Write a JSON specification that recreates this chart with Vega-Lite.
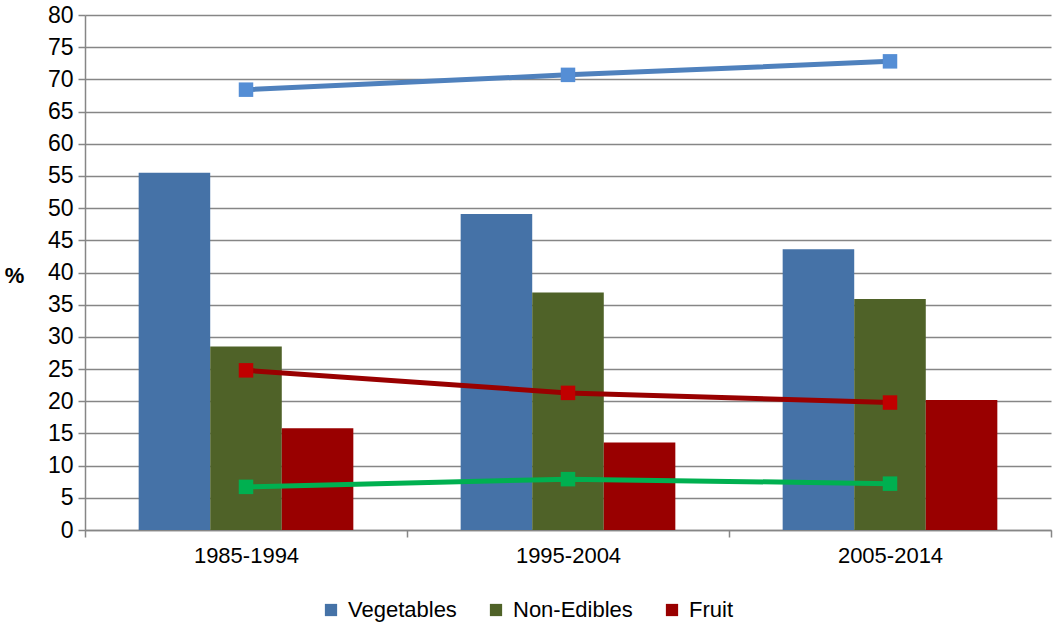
{
  "$schema": "https://vega.github.io/schema/vega-lite/v6.json",
  "width": 966,
  "height": 515,
  "autosize": {"type": "none"},
  "padding": {"left": 85, "top": 15, "right": 3, "bottom": 93},
  "background": "white",
  "config": {
    "font": "Liberation Sans",
    "view": {"stroke": null}
  },
  "data": {
    "values": [
      {"period": "1985-1994", "series": "Vegetables", "kind": "bar", "value": 55.5},
      {"period": "1985-1994", "series": "Non-Edibles", "kind": "bar", "value": 28.5},
      {"period": "1985-1994", "series": "Fruit", "kind": "bar", "value": 15.8},
      {"period": "1995-2004", "series": "Vegetables", "kind": "bar", "value": 49.1},
      {"period": "1995-2004", "series": "Non-Edibles", "kind": "bar", "value": 36.9},
      {"period": "1995-2004", "series": "Fruit", "kind": "bar", "value": 13.6},
      {"period": "2005-2014", "series": "Vegetables", "kind": "bar", "value": 43.6},
      {"period": "2005-2014", "series": "Non-Edibles", "kind": "bar", "value": 35.9},
      {"period": "2005-2014", "series": "Fruit", "kind": "bar", "value": 20.2},
      {"period": "1985-1994", "series": "Blue line", "kind": "line", "value": 68.4},
      {"period": "1995-2004", "series": "Blue line", "kind": "line", "value": 70.7},
      {"period": "2005-2014", "series": "Blue line", "kind": "line", "value": 72.8},
      {"period": "1985-1994", "series": "Red line", "kind": "line", "value": 24.8},
      {"period": "1995-2004", "series": "Red line", "kind": "line", "value": 21.3},
      {"period": "2005-2014", "series": "Red line", "kind": "line", "value": 19.8},
      {"period": "1985-1994", "series": "Green line", "kind": "line", "value": 6.7},
      {"period": "1995-2004", "series": "Green line", "kind": "line", "value": 7.9},
      {"period": "2005-2014", "series": "Green line", "kind": "line", "value": 7.2}
    ]
  },
  "encoding": {
    "x": {
      "field": "period",
      "type": "nominal",
      "scale": {"paddingInner": 0, "paddingOuter": 0},
      "axis": {
        "title": null,
        "labelAngle": 0,
        "labelFontSize": 22,
        "labelColor": "#000000",
        "labelPadding": 8,
        "tickBand": "extent",
        "tickSize": 7,
        "tickColor": "#868686",
        "tickWidth": 1.5,
        "domainColor": "#868686",
        "domainWidth": 1.5,
        "grid": false
      }
    },
    "y": {
      "field": "value",
      "type": "quantitative",
      "scale": {"domain": [0, 80], "nice": false},
      "axis": {
        "title": "%",
        "titleAngle": 0,
        "titleX": -71,
        "titleY": 260,
        "titleFontSize": 22,
        "titleFontWeight": "bold",
        "titleAlign": "center",
        "titleBaseline": "middle",
        "titleColor": "#000000",
        "values": [0, 5, 10, 15, 20, 25, 30, 35, 40, 45, 50, 55, 60, 65, 70, 75, 80],
        "grid": true,
        "gridColor": "#868686",
        "gridWidth": 1.5,
        "domainColor": "#868686",
        "domainWidth": 1.5,
        "tickColor": "#868686",
        "tickWidth": 1.5,
        "tickSize": 7,
        "labelFontSize": 23,
        "labelColor": "#000000",
        "labelPadding": 5
      }
    }
  },
  "layer": [
    {
      "transform": [{"filter": "datum.kind === 'bar'"}],
      "mark": {"type": "bar"},
      "encoding": {
        "xOffset": {
          "field": "series",
          "type": "nominal",
          "sort": ["Vegetables", "Non-Edibles", "Fruit"],
          "scale": {"paddingInner": 0, "paddingOuter": 0.75}
        },
        "color": {
          "field": "series",
          "type": "nominal",
          "sort": ["Vegetables", "Non-Edibles", "Fruit"],
          "scale": {
            "domain": ["Vegetables", "Non-Edibles", "Fruit"],
            "range": ["#4572A7", "#4F6228", "#990000"]
          },
          "legend": {
            "orient": "none",
            "legendX": 235,
            "legendY": 584,
            "direction": "horizontal",
            "title": null,
            "symbolType": "square",
            "symbolSize": 150,
            "symbolStrokeWidth": 0,
            "labelFontSize": 22,
            "labelColor": "#000000",
            "labelOffset": 6,
            "columnPadding": 28,
            "padding": 0
          }
        }
      }
    },
    {
      "transform": [{"filter": "datum.kind === 'line'"}],
      "mark": {"type": "line", "strokeWidth": 5},
      "encoding": {
        "color": {
          "field": "series",
          "type": "nominal",
          "scale": {
            "domain": ["Blue line", "Red line", "Green line"],
            "range": ["#4F81BD", "#990000", "#00B050"]
          },
          "legend": null
        }
      }
    },
    {
      "transform": [{"filter": "datum.kind === 'line'"}],
      "mark": {"type": "square", "size": 210, "filled": true, "opacity": 1},
      "encoding": {
        "color": {
          "field": "series",
          "type": "nominal",
          "scale": {
            "domain": ["Blue line", "Red line", "Green line"],
            "range": ["#558ED5", "#C00000", "#00B050"]
          },
          "legend": null
        }
      }
    }
  ],
  "resolve": {"scale": {"color": "independent"}}
}
